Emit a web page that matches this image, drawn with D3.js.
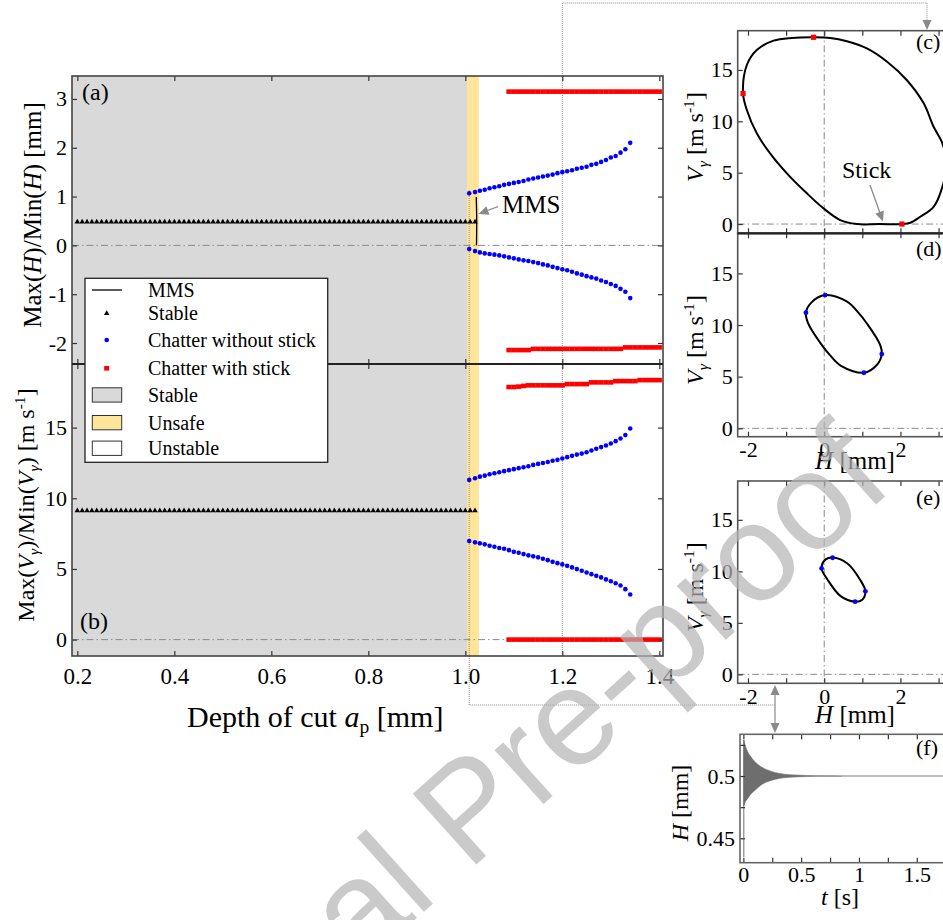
<!DOCTYPE html>
<html lang="en">
<head>
<meta charset="UTF-8">
<title>Max/Min of H and V vs depth of cut</title>
<style>
  body { margin: 0; background: #fff; }
  svg { display: block; }
  text { font-family: "Liberation Serif", "Times New Roman", serif; }
</style>
</head>
<body>
<svg width="943" height="920"></svg>
<script src="https://d3js.org/d3.v7.min.js"></script>
<script>
// ---- values ----
// stable branch: sampled every 0.01 mm from 0.20 to 1.02 mm, constant value
const stableAp = d3.range(20, 103).map(i => i / 100);
const stableH = 0.48, stableV = 9.12;

// region limits on the depth-of-cut axis
const stableEnd = 1.0035, unsafeEnd = 1.028;

// chatter without stick (blue)
const noStickAp = [1.008, 1.02, 1.03, 1.04, 1.05, 1.06, 1.07, 1.08, 1.09, 1.10, 1.11, 1.12,
  1.13, 1.14, 1.15, 1.16, 1.17, 1.18, 1.19, 1.20, 1.21, 1.22, 1.23, 1.24, 1.25, 1.26, 1.27,
  1.28, 1.29, 1.30, 1.31, 1.32, 1.33, 1.34];
const noStickHmax = [1.066, 1.092, 1.12, 1.14, 1.17, 1.19, 1.21, 1.24, 1.26, 1.28, 1.30, 1.32,
  1.35, 1.37, 1.39, 1.41, 1.43, 1.45, 1.48, 1.50, 1.52, 1.54, 1.57, 1.59, 1.61, 1.65, 1.67,
  1.71, 1.75, 1.80, 1.83, 1.90, 1.97, 2.10];
const noStickHmin = [-0.076, -0.117, -0.144, -0.164, -0.178, -0.19, -0.205, -0.225, -0.246,
  -0.266, -0.287, -0.307, -0.32, -0.342, -0.363, -0.39, -0.41, -0.44, -0.465, -0.49, -0.51,
  -0.54, -0.574, -0.60, -0.63, -0.656, -0.68, -0.72, -0.75, -0.79, -0.83, -0.89, -0.95, -1.08];
const noStickVmax = [11.30, 11.42, 11.53, 11.60, 11.70, 11.77, 11.84, 11.92, 11.99, 12.06,
  12.13, 12.20, 12.27, 12.36, 12.43, 12.50, 12.57, 12.65, 12.72, 12.81, 12.91, 13.00, 13.09,
  13.16, 13.26, 13.38, 13.50, 13.62, 13.73, 13.87, 14.04, 14.23, 14.47, 14.94];
const noStickVmin = [6.97, 6.88, 6.81, 6.74, 6.64, 6.57, 6.48, 6.43, 6.33, 6.21, 6.14, 6.05,
  5.96, 5.89, 5.82, 5.72, 5.62, 5.50, 5.41, 5.32, 5.22, 5.11, 4.99, 4.87, 4.75, 4.63, 4.51,
  4.40, 4.26, 4.13, 3.99, 3.83, 3.57, 3.19];

// chatter with stick (red)
const stickAp = [1.09, 1.10, 1.11, 1.12, 1.13, 1.14, 1.15, 1.16, 1.17, 1.18, 1.19, 1.20, 1.21,
  1.22, 1.23, 1.24, 1.25, 1.26, 1.27, 1.28, 1.29, 1.30, 1.31, 1.32, 1.33, 1.34, 1.35, 1.36,
  1.37, 1.38, 1.39, 1.40];
const stickHmax = [3.15, 3.15, 3.15, 3.15, 3.15, 3.15, 3.15, 3.15, 3.15, 3.15, 3.15, 3.15,
  3.15, 3.15, 3.15, 3.15, 3.15, 3.15, 3.15, 3.15, 3.15, 3.15, 3.15, 3.15, 3.15, 3.15, 3.15,
  3.15, 3.15, 3.15, 3.15, 3.15];
const stickHmin = [-2.145, -2.145, -2.145, -2.145, -2.145, -2.12, -2.12, -2.12, -2.12, -2.12,
  -2.12, -2.12, -2.12, -2.12, -2.12, -2.12, -2.12, -2.12, -2.12, -2.12, -2.12, -2.12, -2.12,
  -2.12, -2.09, -2.09, -2.09, -2.09, -2.09, -2.09, -2.09, -2.09];
const stickVmax = [17.87, 17.87, 17.90, 17.95, 17.99, 17.99, 17.99, 17.99, 17.99, 17.99, 17.99,
  17.99, 18.08, 18.08, 18.08, 18.08, 18.08, 18.20, 18.20, 18.20, 18.20, 18.20, 18.29, 18.29,
  18.29, 18.29, 18.29, 18.36, 18.36, 18.36, 18.36, 18.36];
const stickVmin = [0, 0, 0, 0, 0, 0, 0, 0, 0, 0, 0, 0, 0, 0, 0, 0, 0, 0, 0, 0, 0, 0, 0, 0, 0,
  0, 0, 0, 0, 0, 0, 0];

// MMS curve
const mmsAp = [1.0225, 1.0235, 1.023];
const mmsH = [0.99, 0.5, 0.0];

const xTicks = [0.2, 0.4, 0.6, 0.8, 1.0, 1.2, 1.4];
const hTicks = [-2, -1, 0, 1, 2, 3];
const vTicks = [0, 5, 10, 15];

// phase portraits (H [mm], V [m/s]), traced clockwise
const cH = [-0.28, 0.157, 0.595, 1.12, 1.65, 2.17, 2.61, 2.87, 3.10, 3.2, 3.10, 2.87, 2.52,
  2.26, 2.04, 1.45, 0.86, 0.42, -0.02, -0.455, -0.98, -1.42, -1.77, -2.03, -2.13, -2.03, -1.77,
  -1.33, -0.85];
const cV = [18.18, 18.12, 17.8, 17.1, 15.8, 14.0, 11.75, 9.47, 7.86, 5.8, 3.63, 1.68, 0.71,
  0.13, 0.0, 0.0, 0.0, 0.39, 1.53, 2.99, 4.94, 6.88, 8.83, 11.1, 12.7, 15.48, 16.94, 17.85, 18.12];
const cMarkH = [-2.13, -0.28, 2.04];
const cMarkV = [12.7, 18.18, 0.0];

const dH = [0.026, 0.6, 0.89, 1.12, 1.47, 1.51, 1.38, 1.04, 0.44, 0.15, -0.08, -0.43, -0.48, -0.34];
const dV = [12.9, 12.26, 11.22, 10.15, 8.06, 7.19, 6.13, 5.38, 6.04, 7.08, 8.15, 10.24, 11.2, 12.17];
const dMarkH = [0.026, -0.48, 1.51, 1.04];
const dMarkV = [12.9, 11.2, 7.19, 5.38];

const eH = [0.22, 0.6, 0.945, 1.08, 0.99, 0.81, 0.43, 0.085, -0.07, 0.04];
const eV = [11.34, 10.78, 9.16, 8.06, 7.21, 7.05, 7.59, 9.21, 10.29, 11.16];
const eMarkH = [0.22, -0.07, 1.08, 0.81];
const eMarkV = [11.32, 10.29, 8.06, 7.05];

// time history (f): envelope of the decaying oscillation
const fT = [0.004, 0.015, 0.03, 0.06, 0.09, 0.13, 0.17, 0.22, 0.28, 0.35, 0.45, 0.55, 0.7, 0.85];
const fUpper = [0.529, 0.525, 0.521, 0.516, 0.5125, 0.509, 0.5065, 0.5045, 0.5027, 0.5015,
  0.5008, 0.5004, 0.5002, 0.5001];
const fLower = [0.476, 0.479, 0.481, 0.485, 0.4877, 0.491, 0.4938, 0.4958, 0.4975, 0.4986,
  0.4993, 0.4996, 0.4998, 0.4999];
const fSpikeT = 0.004, fSpikeMin = 0.435, fEnd = 1.86, fSteady = 0.5;

// ---- drawing ----
const svg = d3.select("svg");

const x = d3.scaleLinear().domain([0.189, 1.4076]).range([72, 663]);
const yA = d3.scaleLinear().domain([-2.43, 3.47]).range([364, 76]);
const yB = d3.scaleLinear().domain([-1.16, 19.5]).range([656, 364]);

function addAxis(axisFn, scale, transform, values, fmt, size, pad) {
  const g = svg.append("g").attr("transform", transform)
    .call(axisFn(scale).tickValues(values).tickSizeInner(-5).tickSizeOuter(0)
      .tickPadding(pad || 0).tickFormat(fmt || (() => "")));
  g.attr("font-family", null).attr("font-size", size || 22);
  g.select(".domain").remove();
  g.selectAll(".tick line").attr("stroke", "#333").attr("stroke-width", 1.2);
  return g;
}

function dashDot(x1, y1, x2, y2) {
  svg.append("line").attr("x1", x1).attr("y1", y1).attr("x2", x2).attr("y2", y2)
    .attr("stroke", "#8a8a8a").attr("stroke-width", 1).attr("stroke-dasharray", "7,3,1.5,3");
}

function arrowHead(tx, ty, angle) {
  svg.append("path").attr("d", "M0,0L-10,-4.5L-10,4.5Z").attr("fill", "#8a8a8a")
    .attr("transform", `translate(${tx},${ty}) rotate(${angle})`);
}

// regions
svg.append("rect").attr("x", x(0.189)).attr("y", 76)
  .attr("width", x(stableEnd) - x(0.189)).attr("height", 580).attr("fill", "#d9d9d9");
svg.append("rect").attr("x", x(stableEnd)).attr("y", 76)
  .attr("width", x(unsafeEnd) - x(stableEnd)).attr("height", 580).attr("fill", "#ffe599");

dashDot(72, yA(0), 663, yA(0));
dashDot(72, yB(0), 663, yB(0));

// connectors
svg.append("path").attr("d", `M${x(1.2)},656V3H927V22`)
  .attr("fill", "none").attr("stroke", "#8a8a8a").attr("stroke-dasharray", "1,1");
arrowHead(927, 30, 90);
svg.append("path").attr("d", `M${x(noStickAp[0])},190V705H775`)
  .attr("fill", "none").attr("stroke", "#8a8a8a").attr("stroke-dasharray", "1,1");
svg.append("line").attr("x1", 775).attr("x2", 775).attr("y1", 692).attr("y2", 726)
  .attr("stroke", "#8a8a8a").attr("stroke-width", 1.2);
arrowHead(775, 685, -90);
arrowHead(775, 733, 90);

// stable triangles
const tri = d3.symbol(d3.symbolTriangle).size(13);
[[yA, stableH], [yB, stableV]].forEach(([ys, v]) => {
  svg.append("g").selectAll("path").data(stableAp).join("path")
    .attr("d", tri).attr("fill", "#000")
    .attr("transform", d => `translate(${x(d)},${ys(v)})`);
});

// chatter without stick
[[yA, noStickHmax], [yA, noStickHmin], [yB, noStickVmax], [yB, noStickVmin]].forEach(([ys, vals]) => {
  svg.append("g").selectAll("circle").data(noStickAp).join("circle")
    .attr("cx", d => x(d)).attr("cy", (d, i) => ys(vals[i])).attr("r", 2.3).attr("fill", "#0000ff");
});

// chatter with stick
[[yA, stickHmax], [yA, stickHmin], [yB, stickVmax], [yB, stickVmin]].forEach(([ys, vals]) => {
  svg.append("g").selectAll("rect").data(stickAp).join("rect")
    .attr("x", d => x(d) - 2.6).attr("y", (d, i) => ys(vals[i]) - 2.3)
    .attr("width", 5.2).attr("height", 4.6).attr("fill", "#ff0000");
});

// MMS
svg.append("path")
  .attr("d", d3.line().x(d => x(d[0])).y(d => yA(d[1])).curve(d3.curveNatural)(d3.zip(mmsAp, mmsH)))
  .attr("fill", "none").attr("stroke", "#000").attr("stroke-width", 1.3);
svg.append("line").attr("x1", 498).attr("y1", 206.7).attr("x2", 486).attr("y2", 211)
  .attr("stroke", "#8a8a8a").attr("stroke-width", 1.3);
arrowHead(478.5, 214, 160);
svg.append("text").attr("x", 502).attr("y", 213).attr("font-size", 25).text("MMS");

// axes of (a) and (b)
addAxis(d3.axisTop, x, "translate(0,76)", xTicks);
addAxis(d3.axisBottom, x, "translate(0,364)", xTicks);
addAxis(d3.axisTop, x, "translate(0,364)", xTicks);
addAxis(d3.axisBottom, x, "translate(0,656)", xTicks, d3.format(".1f"), 23, 12);
addAxis(d3.axisLeft, yA, "translate(72,0)", hTicks, d => String(d), 22, 5);
addAxis(d3.axisRight, yA, "translate(663,0)", hTicks);
addAxis(d3.axisLeft, yB, "translate(72,0)", vTicks, d => String(d), 22, 5);
addAxis(d3.axisRight, yB, "translate(663,0)", vTicks);

svg.append("rect").attr("x", 72).attr("y", 76).attr("width", 591).attr("height", 580)
  .attr("fill", "none").attr("stroke", "#444").attr("stroke-width", 1.6);
svg.append("line").attr("x1", 72).attr("x2", 663).attr("y1", 364).attr("y2", 364)
  .attr("stroke", "#222").attr("stroke-width", 2.2);

svg.append("text").attr("x", 82).attr("y", 100).attr("font-size", 24).text("(a)");
svg.append("text").attr("x", 80).attr("y", 629).attr("font-size", 24).text("(b)");

// axis titles
const la = svg.append("text").attr("transform", "translate(41,215) rotate(-90)")
  .attr("text-anchor", "middle").attr("font-size", 25);
la.append("tspan").text("Max(");
la.append("tspan").attr("font-style", "italic").text("H");
la.append("tspan").text(")/Min(");
la.append("tspan").attr("font-style", "italic").text("H");
la.append("tspan").text(") [mm]");

function vLabel(sel) {
  sel.append("tspan").attr("font-style", "italic").text("V");
  sel.append("tspan").attr("font-style", "italic").attr("font-size", "0.65em").attr("dy", 5).text("γ");
}
const lb = svg.append("text").attr("transform", "translate(34,505) rotate(-90)")
  .attr("text-anchor", "middle").attr("font-size", 24);
lb.append("tspan").text("Max(");
vLabel(lb);
lb.append("tspan").attr("dy", -5).text(")/Min(");
vLabel(lb);
lb.append("tspan").attr("dy", -5).text(") [m s");
lb.append("tspan").attr("font-size", "0.65em").attr("dy", -9).text("-1");
lb.append("tspan").attr("dy", 9).text("]");

const lx = svg.append("text").attr("x", 187).attr("y", 727).attr("font-size", 30);
lx.append("tspan").text("Depth of cut ");
lx.append("tspan").attr("font-style", "italic").text("a");
lx.append("tspan").attr("font-size", "0.65em").attr("dy", 6).text("p");
lx.append("tspan").attr("dy", -6).text(" [mm]");

// legend
const lg = svg.append("g");
lg.append("rect").attr("x", 85).attr("y", 278.3).attr("width", 242.7).attr("height", 184)
  .attr("fill", "#fff").attr("stroke", "#222").attr("stroke-width", 1.3);
const legRows = [
  { y: 290, label: "MMS", kind: "line" },
  { y: 313.3, label: "Stable", kind: "tri" },
  { y: 340, label: "Chatter without stick", kind: "dot" },
  { y: 368.3, label: "Chatter with stick", kind: "sq" },
  { y: 395, label: "Stable", kind: "box", fill: "#d9d9d9" },
  { y: 422.7, label: "Unsafe", kind: "box", fill: "#ffe599" },
  { y: 448.3, label: "Unstable", kind: "box", fill: "#fff" }
];
legRows.forEach(r => {
  if (r.kind === "line") lg.append("line").attr("x1", 92).attr("x2", 122).attr("y1", r.y).attr("y2", r.y)
    .attr("stroke", "#000").attr("stroke-width", 1.3);
  if (r.kind === "tri") lg.append("path").attr("d", tri).attr("transform", `translate(106.7,${r.y})`);
  if (r.kind === "dot") lg.append("circle").attr("cx", 106.7).attr("cy", r.y).attr("r", 2.3).attr("fill", "#0000ff");
  if (r.kind === "sq") lg.append("rect").attr("x", 104.2).attr("y", r.y - 2.3).attr("width", 5).attr("height", 4.6).attr("fill", "#ff0000");
  if (r.kind === "box") lg.append("rect").attr("x", 92.3).attr("y", r.y - 7.2).attr("width", 29.4).attr("height", 14.3)
    .attr("fill", r.fill).attr("stroke", "#333").attr("stroke-width", 1);
  lg.append("text").attr("x", 148).attr("y", r.y + 7).attr("font-size", 20).text(r.label);
});

// ---- right column ----
const rL = 737.7, rR = 958;
const xR = d3.scaleLinear().domain([-2.27, 3.51]).range([rL, rR]);
const hRTicks = [-2, -1, 0, 1, 2, 3];

function phasePanel(top, bot, lo, hi, hs, vs, mh, mv, markColor, square, bottomLabels) {
  const yP = d3.scaleLinear().domain([lo, hi]).range([bot, top]);
  dashDot(xR(0), top, xR(0), bot);
  dashDot(rL, yP(0), rR, yP(0));
  svg.append("path")
    .attr("d", d3.line().x(d => xR(d[0])).y(d => yP(d[1])).curve(d3.curveCatmullRomClosed.alpha(0.5))(d3.zip(hs, vs)))
    .attr("fill", "none").attr("stroke", "#000").attr("stroke-width", 2);
  const pts = d3.zip(mh, mv);
  if (square) {
    svg.append("g").selectAll("rect").data(pts).join("rect")
      .attr("x", d => xR(d[0]) - 2.6).attr("y", d => yP(d[1]) - 2.6).attr("width", 5.2).attr("height", 5.2)
      .attr("fill", markColor);
  } else {
    svg.append("g").selectAll("circle").data(pts).join("circle")
      .attr("cx", d => xR(d[0])).attr("cy", d => yP(d[1])).attr("r", 2.4).attr("fill", markColor);
  }
  addAxis(d3.axisLeft, yP, `translate(${rL},0)`, vTicks, d => String(d), 22, 5);
  addAxis(d3.axisTop, xR, `translate(0,${top})`, hRTicks);
  addAxis(d3.axisBottom, xR, `translate(0,${bot})`, hRTicks,
    bottomLabels ? (d => d % 2 === 0 ? String(d) : "") : null, 22, 5);
  svg.append("rect").attr("x", rL).attr("y", top).attr("width", rR - rL).attr("height", bot - top)
    .attr("fill", "none").attr("stroke", "#555").attr("stroke-width", 1.6);
  const cy = (top + bot) / 2 + 5;
  const t = svg.append("text").attr("transform", `translate(703,${cy}) rotate(-90)`)
    .attr("text-anchor", "middle").attr("font-size", 24);
  vLabel(t);
  t.append("tspan").attr("dy", -5).text(" [m s");
  t.append("tspan").attr("font-size", "0.65em").attr("dy", -9).text("-1");
  t.append("tspan").attr("dy", 9).text("]");
  return yP;
}

function hAxisTitle(y) {
  const t = svg.append("text").attr("x", 855).attr("y", y).attr("text-anchor", "middle").attr("font-size", 25);
  t.append("tspan").attr("font-style", "italic").text("H");
  t.append("tspan").text(" [mm]");
}

phasePanel(30.7, 233.3, -0.9, 18.82, cH, cV, cMarkH, cMarkV, "#ff0000", true, false);
phasePanel(233.3, 436.7, -0.81, 18.88, dH, dV, dMarkH, dMarkV, "#0000ff", false, true);
hAxisTitle(469);
phasePanel(481, 683.3, -0.87, 18.77, eH, eV, eMarkH, eMarkV, "#0000ff", false, true);
hAxisTitle(723);
svg.append("line").attr("x1", rL).attr("x2", rR).attr("y1", 233.3).attr("y2", 233.3)
  .attr("stroke", "#222").attr("stroke-width", 2.2);

svg.append("text").attr("x", 916).attr("y", 49).attr("font-size", 22).text("(c)");
svg.append("text").attr("x", 916).attr("y", 256).attr("font-size", 22).text("(d)");
svg.append("text").attr("x", 916).attr("y", 505).attr("font-size", 22).text("(e)");

// stick annotation
svg.append("text").attr("x", 842).attr("y", 178).attr("font-size", 24).text("Stick");
svg.append("line").attr("x1", 870).attr("y1", 185).attr("x2", 880).attr("y2", 213)
  .attr("stroke", "#8a8a8a").attr("stroke-width", 1.3);
arrowHead(883, 221.5, 70);

// (f) time history
const xF = d3.scaleLinear().domain([-0.029, 1.86]).range([740, 958.4]);
const yF = d3.scaleLinear().domain([0.4304, 0.5335]).range([862.7, 734.3]);
svg.append("line").attr("x1", xF(fT[fT.length - 1])).attr("x2", xF(fEnd))
  .attr("y1", yF(fSteady)).attr("y2", yF(fSteady)).attr("stroke", "#a8a8a8").attr("stroke-width", 1.3);
svg.append("path")
  .attr("d", d3.area().x(d => xF(d[0])).y0(d => yF(d[2])).y1(d => yF(d[1])).curve(d3.curveMonotoneX)(d3.zip(fT, fUpper, fLower)))
  .attr("fill", "#6e6e6e").attr("stroke", "#6e6e6e").attr("stroke-width", 0.6);
svg.append("line").attr("x1", xF(fSpikeT)).attr("x2", xF(fSpikeT))
  .attr("y1", yF(fSpikeMin)).attr("y2", yF(fUpper[0])).attr("stroke", "#6e6e6e").attr("stroke-width", 1);
addAxis(d3.axisLeft, yF, "translate(740,0)", [0.45, 0.475, 0.5, 0.525],
  d => (d === 0.45 || d === 0.5) ? String(d) : "", 22, 5);
addAxis(d3.axisTop, xF, "translate(0,734.3)", [0, 0.25, 0.5, 0.75, 1, 1.25, 1.5, 1.75]);
addAxis(d3.axisBottom, xF, "translate(0,862.7)", [0, 0.25, 0.5, 0.75, 1, 1.25, 1.5, 1.75],
  d => Number.isInteger(d * 2) ? String(d) : "", 22, 4);
svg.append("rect").attr("x", 740).attr("y", 734.3).attr("width", 218.4).attr("height", 128.4)
  .attr("fill", "none").attr("stroke", "#666").attr("stroke-width", 1.6);
svg.append("text").attr("x", 916).attr("y", 755).attr("font-size", 22).text("(f)");
const fy = svg.append("text").attr("transform", "translate(688,803) rotate(-90)")
  .attr("text-anchor", "middle").attr("font-size", 24);
fy.append("tspan").attr("font-style", "italic").text("H");
fy.append("tspan").text(" [mm]");
const fx = svg.append("text").attr("x", 840).attr("y", 905).attr("text-anchor", "middle").attr("font-size", 24);
fx.append("tspan").attr("font-style", "italic").text("t");
fx.append("tspan").text(" [s]");

// watermark
const wm = svg.append("g").attr("transform", "translate(468,872) rotate(-42)")
  .style("font-family", '"Liberation Sans", Arial, sans-serif').style("font-size", "138px")
  .style("fill", "#b4b4b4").style("opacity", 0.7);
wm.append("text").attr("x", -38).attr("text-anchor", "end").style("font-family", "inherit").text("Journal");
wm.append("text").attr("x", 0).style("font-family", "inherit").text("Pre-proof");
</script>
</body>
</html>
